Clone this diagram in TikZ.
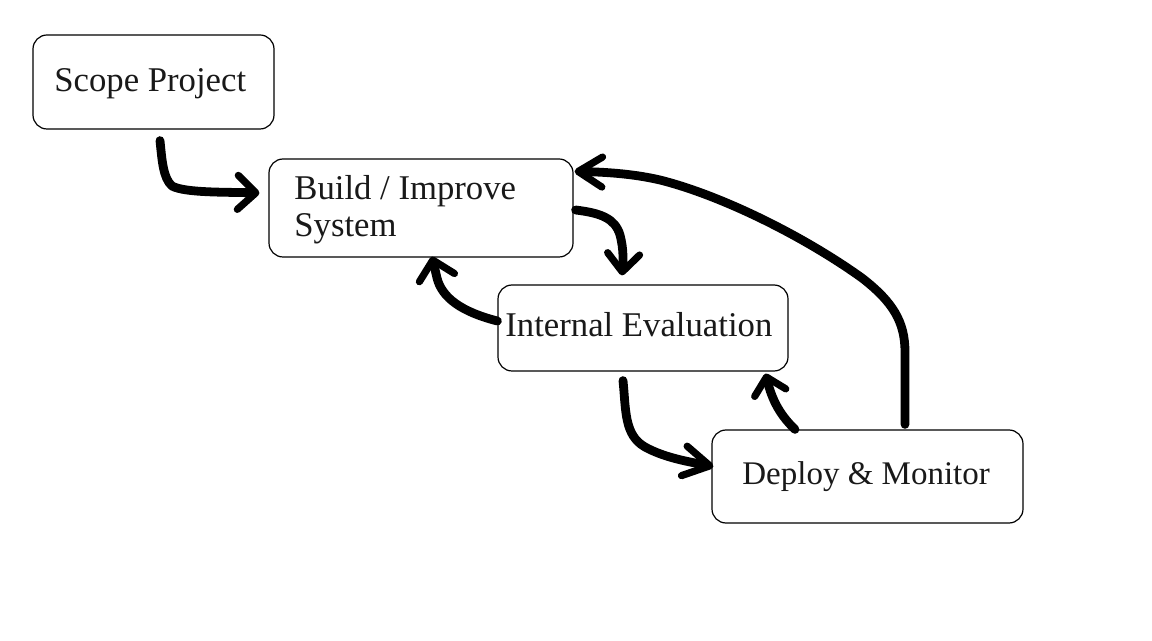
\documentclass[tikz,border=0pt]{standalone}
\usepackage{fontspec}
\setmainfont{Liberation Serif}
\usetikzlibrary{arrows.meta,calc}
\begin{document}
\begin{tikzpicture}[x=0.5pt,y=-0.5pt,
  box/.style={draw=black,line width=0.6pt,rounded corners=7pt,inner sep=0pt,fill=white},
  txt/.style={inner sep=0pt,anchor=base west,font=\fontsize{17.35}{20}\selectfont,text=black!90},
  hand/.style={line width=4.4pt,line cap=round,line join=round,black},
  tipA/.style={-{Straight Barb[length=9pt,width=17pt,line width=3.6pt,round]}},
]
\useasboundingbox[fill=white] (0,0) rectangle (1152,641);
% boxes
\node[box,minimum width=120.5pt,minimum height=47pt] (scope) at (153.5,82) {};
\node[box,minimum width=152pt,minimum height=49pt] (build) at (421,208) {};
\node[box,minimum width=145pt,minimum height=43pt] (internal) at (643,328) {};
\node[box,minimum width=155.5pt,minimum height=46.5pt] (deploy) at (867.5,476.5) {};
% texts
\node[txt] (scopetxt) at (54,92) {Scope Project};
\node[txt] (buildtxt1) at (294,200) {Build / Improve};
\node[txt] (buildtxt2) at (294,237) {System};
\node[txt] (internaltxt) at (505,337) {Internal Evaluation};
\node[txt,font=\fontsize{16.5}{20}\selectfont] (deploytxt) at (742,485) {Deploy \& Monitor};
% connectors
\draw[hand,tipA] ($(scope.south)+(6.5,11)$) .. controls (162,160) and (163,178) .. (172,186)
   .. controls (185,193) and (225,192) .. ($(build.west)+(-9,-15)$);
\draw[hand,-{Straight Barb[length=9pt,width=16pt,line width=3.6pt,round]}] ($(build.east)+(2,2)$) .. controls (600,213) and (615,218) .. (620,235)
   .. controls (624,250) and (623,262) .. ($(internal.north)+(-21,-9)$);
\draw[hand,-{Straight Barb[length=9pt,width=18pt,line width=3.6pt,round]}] ($(internal.west)+(0,-7)$) .. controls (462,312) and (442,298) .. (437,278)
   -- ($(build.south)+(11,-1)$);
\draw[hand,-{Straight Barb[length=13pt,width=15pt,line width=3.6pt,round]}] ($(internal.south)+(-20,9)$) .. controls (626,410) and (624,435) .. (645,447)
   .. controls (665,458) and (690,462) .. ($(deploy.west)+(2,-10)$);
\draw[hand,-{Straight Barb[length=8pt,width=16pt,line width=3.6pt,round]}] ($(deploy.north)+(-72.5,0)$) .. controls (780,415) and (772,400) .. ($(internal.south east)+(-23,2)$);
\draw[hand,-{Straight Barb[length=12pt,width=15pt,line width=3.6pt,round]}] ($(deploy.north)+(37.5,-5)$) -- (905,352)
   .. controls (905,322) and (893,302) .. (862,278)
   .. controls (802,235) and (720,195) .. (660,180)
   .. controls (630,173) and (600,172) .. ($(build.north east)+(1,13)$);
\end{tikzpicture}
\end{document}
